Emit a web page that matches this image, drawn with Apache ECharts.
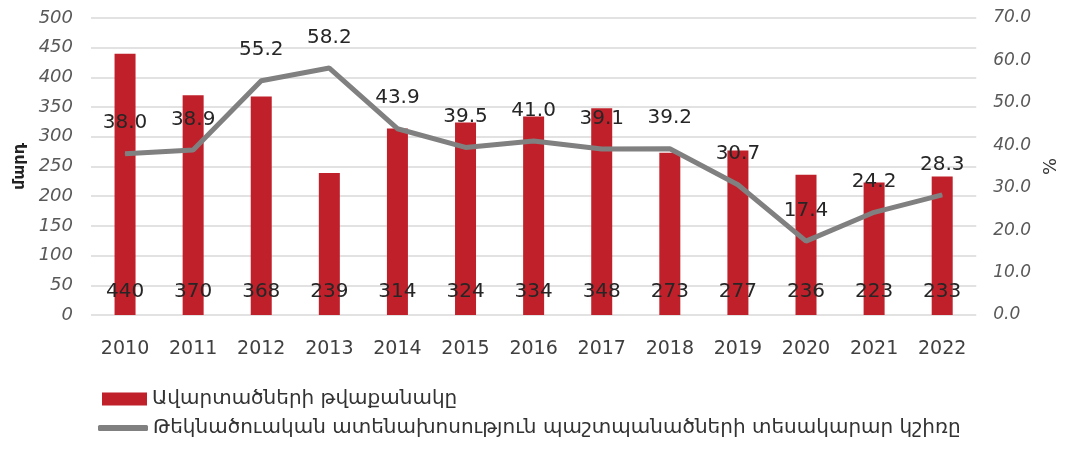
<!DOCTYPE html>
<html>
<head>
<meta charset="utf-8">
<script src="https://cdn.jsdelivr.net/npm/echarts@6/dist/echarts.min.js"></script>
<style>
  html, body { margin: 0; padding: 0; background: #fff; }
  #chart { width: 1068px; height: 450px; }
</style>
</head>
<body>
<div id="chart"></div>
<script>
// տարիներ
const years = ['2010', '2011', '2012', '2013', '2014', '2015', '2016', '2017', '2018', '2019', '2020', '2021', '2022']
// ավարտածների թվաքանակը (մարդ)
const graduates = [440, 370, 368, 239, 314, 324, 334, 348, 273, 277, 236, 223, 233]
// պաշտպանածների տեսակարար կշիռը (%)
const defendedShare = [38.0, 38.9, 55.2, 58.2, 43.9, 39.5, 41.0, 39.1, 39.2, 30.7, 17.4, 24.2, 28.3]

const barName = 'Ավարտածների թվաքանակը'
const lineName = 'Թեկնածուական ատենախոսություն պաշտպանածների տեսակարար կշիռը'

const FONT = '"DejaVu Sans", "Noto Sans", sans-serif'
const RED = '#c0202a'
const GRAY = '#808080'

const chart = echarts.init(document.getElementById('chart'))

chart.setOption({
  animation: false,
  textStyle: { fontFamily: FONT },
  grid: { left: 91, right: 87, top: 18, bottom: 135 },
  legend: [
    {
      data: [{ name: barName, icon: 'rect' }],
      left: 97, top: 384,
      itemWidth: 45, itemHeight: 13, itemGap: 8,
      textStyle: { fontSize: 20, color: '#333', fontFamily: FONT },
    },
    {
      data: [{ name: lineName, icon: 'roundRect' }],
      left: 93, top: 413,
      itemWidth: 50, itemHeight: 6, itemGap: 8,
      textStyle: { fontSize: 20, color: '#333', fontFamily: FONT },
    },
  ],
  xAxis: {
    type: 'category',
    data: years,
    axisLine: { show: false },
    axisTick: { show: false },
    axisLabel: { margin: 25, fontSize: 19, color: '#404040', fontFamily: FONT },
  },
  yAxis: [
    {
      type: 'value',
      min: 0, max: 500, interval: 50,
      name: 'մարդ',
      nameLocation: 'middle',
      nameGap: 56,
      nameTextStyle: { fontSize: 16, fontWeight: 'bold', color: '#222', fontFamily: FONT },
      axisLabel: { margin: 18, fontSize: 18, fontStyle: 'italic', color: '#595959', fontFamily: FONT },
      splitLine: { lineStyle: { color: '#d9d9d9', width: 1.5 } },
    },
    {
      type: 'value',
      min: 0, max: 70, interval: 10,
      name: '%',
      nameLocation: 'middle',
      nameGap: 58,
      nameTextStyle: { fontSize: 18, color: '#333', fontFamily: FONT },
      axisLabel: {
        margin: 17, fontSize: 17, fontStyle: 'italic', color: '#595959', fontFamily: FONT,
        formatter: (v) => v.toFixed(1),
      },
      splitLine: { show: false },
    },
  ],
  series: [
    {
      name: barName,
      type: 'bar',
      data: graduates,
      barWidth: 21,
      itemStyle: { color: RED },
      label: {
        show: true,
        position: 'insideBottom',
        distance: 13,
        fontSize: 20,
        color: '#262626',
        fontFamily: FONT,
      },
    },
    {
      name: lineName,
      type: 'line',
      yAxisIndex: 1,
      data: defendedShare,
      symbol: 'circle',
      symbolSize: 1,
      lineStyle: { color: GRAY, width: 5 },
      itemStyle: { color: GRAY },
      label: {
        show: true,
        position: 'top',
        distance: 20,
        fontSize: 20,
        color: '#262626',
        fontFamily: FONT,
        formatter: (p) => p.value.toFixed(1),
      },
    },
  ],
})
</script>
</body>
</html>
